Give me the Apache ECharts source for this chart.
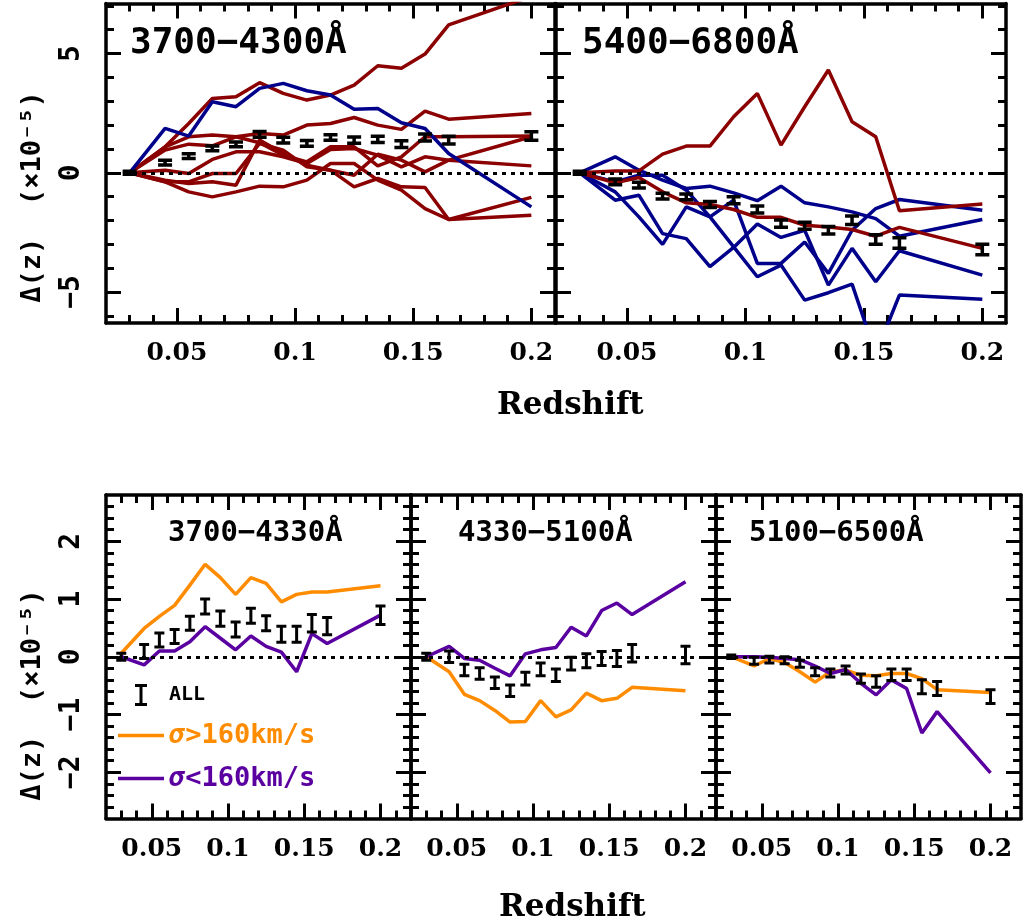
<!DOCTYPE html>
<html><head><meta charset="utf-8">
<script src="https://cdn.jsdelivr.net/npm/echarts@6/dist/echarts.min.js"></script>
<style>html,body{margin:0;padding:0;background:#fff}#c{width:1023px;height:920px}</style>
</head><body><div id="c"></div>
<script>
// ---------------- data ----------------
const redshift = [0.03,0.045,0.055,0.065,0.075,0.085,0.095,0.105,0.115,0.125,0.135,0.145,0.155,0.165,0.2];

// top-left panel 3700-4300A
const tlAll    = [0,0.43,0.70,1.02,1.19,1.61,1.37,1.23,1.48,1.37,1.40,1.20,1.48,1.37,1.54];
const tlAllErr = [0.06,0.1,0.1,0.1,0.1,0.12,0.12,0.12,0.12,0.13,0.13,0.14,0.15,0.16,0.18];
const tlBlue1  = [0,1.86,1.54,2.98,2.77,3.54,3.75,3.44,3.26,2.66,2.70,2.10,1.86,0.81,-1.43];
const tlRed1   = [0,1.09,2.07,3.12,3.19,3.78,3.33,3.05,3.26,3.68,4.49,4.38,4.98,6.20,7.40];
const tlRed2   = [0,1.09,1.51,1.58,1.51,1.65,1.58,2.00,2.07,2.32,2.00,1.82,2.59,2.25,2.49];
const tlRed3   = [0,0.95,1.20,1.13,1.51,1.26,0.74,0.46,1.09,1.09,0.29,0.67,1.51,1.51,1.54];
const tlRed4   = [0,0.11,-0.03,0.56,0.88,0.88,0.67,0.39,0.98,1.02,0.74,0.25,0.67,0.53,0.29];
const tlRed5   = [0,-0.31,-0.45,-0.38,-0.52,1.37,0.81,0.32,0.11,-0.10,0.78,0.53,0.04,0.53,1.51];
const tlRed6   = [0,-0.38,-0.80,-1.01,-0.80,-0.56,-0.59,-0.31,0.39,0.39,-0.31,-0.73,-1.50,-1.96,-1.78];
const tlRed7   = [0,-0.38,-0.38,-0.03,-0.03,1.23,0.95,0.25,0.11,-0.59,-0.24,-0.59,-0.62,-1.96,-1.03];

// top-right panel 5400-6800A
const trAll    = [0,-0.38,-0.52,-0.98,-1.01,-1.33,-1.15,-1.54,-2.13,-2.22,-2.41,-1.99,-2.80,-2.94,-3.22];
const trAllErr = [0.06,0.12,0.12,0.12,0.12,0.13,0.15,0.15,0.15,0.15,0.16,0.18,0.2,0.22,0.22];
const trRed1   = [0,0.08,0.08,0.78,1.12,1.12,2.35,3.33,1.16,2.77,4.31,2.14,1.51,-1.59,-1.31];
const trRed2   = [0,-0.42,-0.20,-0.80,-1.26,-1.33,-1.54,-1.87,-1.87,-2.20,-2.27,-2.38,-2.66,-2.29,-3.17];
const trBlue1  = [0,0.67,0.11,-0.31,-0.66,-0.56,-0.84,-1.17,-0.56,-1.26,-1.43,-1.64,-1.92,-2.66,-1.96];
const trBlue2  = [0,-0.38,-0.10,-0.10,-0.73,-1.85,-1.15,-3.80,-3.80,-2.90,-4.22,-2.41,-1.50,-1.12,-1.57];
const trBlue3  = [0,-1.15,-0.94,-2.55,-2.76,-3.94,-3.13,-2.15,-2.71,-2.41,-4.71,-3.17,-4.57,-3.27,-4.29];
const trBlue4  = [0,-0.80,-1.85,-3.00,-1.43,-1.85,-3.11,-4.36,-3.87,-5.34,-5.03,-4.67,-7.60,-5.13,-5.30];

// bottom-left panel 3700-4330A
const blAll    = [0,0.09,0.29,0.35,0.58,0.87,0.66,0.47,0.71,0.58,0.39,0.39,0.58,0.53,0.72];
const blAllErr = [0.06,0.12,0.12,0.12,0.12,0.13,0.13,0.13,0.13,0.13,0.14,0.14,0.15,0.15,0.16];
const blHigh   = [0.06,0.49,0.70,0.89,1.24,1.60,1.37,1.08,1.37,1.27,0.95,1.08,1.12,1.12,1.23];
const blLow    = [0,-0.14,0.10,0.10,0.26,0.52,0.32,0.12,0.36,0.18,0.08,-0.26,0.40,0.23,0.72];

// bottom-middle panel 4330-5100A
const bmAll    = [0,0,-0.23,-0.29,-0.45,-0.59,-0.38,-0.22,-0.32,-0.12,-0.07,-0.03,-0.03,0.06,0.03];
const bmAllErr = [0.06,0.1,0.1,0.1,0.1,0.1,0.11,0.11,0.11,0.11,0.12,0.12,0.14,0.15,0.15];
const bmHigh   = [0,-0.26,-0.65,-0.76,-0.93,-1.13,-1.12,-0.76,-1.04,-0.92,-0.63,-0.76,-0.72,-0.53,-0.59];
const bmLow    = [0,0.18,-0.03,-0.06,-0.20,-0.33,0.05,0.12,0.16,0.51,0.36,0.80,0.93,0.73,1.30];

// bottom-right panel 5100-6500A
const brAll    = [0,-0.07,-0.05,-0.06,-0.12,-0.26,-0.28,-0.23,-0.38,-0.43,-0.31,-0.31,-0.52,-0.55,-0.69];
const brAllErr = [0.03,0.06,0.06,0.06,0.06,0.07,0.07,0.07,0.08,0.1,0.1,0.1,0.12,0.12,0.12];
const brHigh   = [0,-0.16,-0.03,-0.10,-0.26,-0.44,-0.26,-0.23,-0.32,-0.33,-0.29,-0.29,-0.38,-0.57,-0.62];
const brLow    = [0,0,-0.01,-0.03,-0.05,-0.16,-0.29,-0.22,-0.46,-0.66,-0.40,-0.55,-1.32,-0.95,-2.01];

// ticks
const topXMajor = [0.05,0.1,0.15,0.2];
const topXMinor = [0.03,0.04,0.06,0.07,0.08,0.09,0.11,0.12,0.13,0.14,0.16,0.17,0.18,0.19];
const topYMajor = [-5,0,5];
const topYMinor = [-6,-4,-3,-2,-1,1,2,3,4,6,7];
const botXMajor = [0.05,0.1,0.15,0.2];
const botXMinor = [0.03,0.04,0.06,0.07,0.08,0.09,0.11,0.12,0.13,0.14,0.16,0.17,0.18,0.19,0.21];
const botYMajor = [-2,-1,0,1,2];
const botYMinor = [-2.6,-2.4,-2.2,-1.8,-1.6,-1.4,-1.2,-0.8,-0.6,-0.4,-0.2,0.2,0.4,0.6,0.8,1.2,1.4,1.6,1.8,2.2,2.4,2.6];

const panelTitles = ['3700\u22124300\u00c5','5400\u22126800\u00c5','3700\u22124330\u00c5','4330\u22125100\u00c5','5100\u22126500\u00c5'];
const yTitle = '\u0394(z)  (\u00d710\u207b\u2075)';
const xTitle = 'Redshift';
const nameAll = 'ALL', nameHigh = '\u03c3>160km/s', nameLow = '\u03c3<160km/s';

// ---------------- styling ----------------
const DARKRED = '#8b0000', NAVY = '#00008b', ORANGE = '#ff8c00', PURPLE = '#5a00a0';
const MONO = "'DejaVu Sans Mono', monospace";
const SERIF = "'DejaVu Serif', serif";

const panels = [
  {grid:{left:106, top:3.5, width:449, height:319.5}, x:[0.02,0.21], y:[-6.3,7.1], xMaj:topXMajor, xMin:topXMinor, yMaj:topYMajor, yMin:topYMinor, yLabels:true, cap:7, errW:3.5},
  {grid:{left:556, top:3.5, width:450, height:319.5}, x:[0.02,0.21], y:[-6.3,7.1], xMaj:topXMajor, xMin:topXMinor, yMaj:topYMajor, yMin:topYMinor, yLabels:false, cap:7, errW:3.5},
  {grid:{left:106, top:495, width:305, height:323.5}, x:[0.02,0.22], y:[-2.8,2.8], xMaj:botXMajor, xMin:botXMinor, yMaj:botYMajor, yMin:botYMinor, yLabels:true, cap:5, errW:3},
  {grid:{left:411, top:495, width:305, height:323.5}, x:[0.02,0.22], y:[-2.8,2.8], xMaj:botXMajor, xMin:botXMinor, yMaj:botYMajor, yMin:botYMinor, yLabels:false, cap:5, errW:3},
  {grid:{left:716, top:495, width:305, height:323.5}, x:[0.02,0.22], y:[-2.8,2.8], xMaj:botXMajor, xMin:botXMinor, yMaj:botYMajor, yMin:botYMinor, yLabels:false, cap:5, errW:3}
];

const grids = [], xAxes = [], yAxes = [], series = [];
const axisLineOn = {show:true, onZero:false, lineStyle:{color:'#000', width:3.5}};
const axisLineOff = {show:false, onZero:false};
function tick(vals, len){ return {show:true, inside:true, length:len, customValues:vals, lineStyle:{color:'#000', width:3}}; }
function fmt(v){ return v < 0 ? '\u2212' + Math.abs(v) : String(v); }

const axisIdx = [];
panels.forEach((p, g) => {
  grids.push(Object.assign({show:false}, p.grid));
  const bx = {type:'value', gridIndex:g, min:p.x[0], max:p.x[1], splitLine:{show:false}, minorTick:{show:false}};
  const by = {type:'value', gridIndex:g, min:p.y[0], max:p.y[1], splitLine:{show:false}, minorTick:{show:false}};
  const xi = xAxes.length, yi = yAxes.length;
  xAxes.push(Object.assign({}, bx, {position:'bottom', axisLine:axisLineOn, axisTick:tick(p.xMaj,15),
    axisLabel:{show:true, customValues:p.xMaj, formatter:fmt, margin:18, fontFamily:SERIF, fontWeight:'bold', fontSize:25, color:'#000'}}));
  xAxes.push(Object.assign({}, bx, {position:'bottom', axisLine:axisLineOff, axisTick:tick(p.xMin,8), axisLabel:{show:false}}));
  xAxes.push(Object.assign({}, bx, {position:'top', axisLine:axisLineOn, axisTick:tick(p.xMaj,15), axisLabel:{show:false}}));
  xAxes.push(Object.assign({}, bx, {position:'top', axisLine:axisLineOff, axisTick:tick(p.xMin,8), axisLabel:{show:false}}));
  yAxes.push(Object.assign({}, by, {position:'left', axisLine:axisLineOn, axisTick:tick(p.yMaj,15),
    axisLabel:{show:p.yLabels, customValues:p.yMaj, formatter:fmt, rotate:90, margin:20, fontFamily:MONO, fontWeight:'bold', fontSize:28, color:'#000'}}));
  yAxes.push(Object.assign({}, by, {position:'left', axisLine:axisLineOff, axisTick:tick(p.yMin,8), axisLabel:{show:false}}));
  yAxes.push(Object.assign({}, by, {position:'right', axisLine:axisLineOn, axisTick:tick(p.yMaj,15), axisLabel:{show:false}}));
  yAxes.push(Object.assign({}, by, {position:'right', axisLine:axisLineOff, axisTick:tick(p.yMin,8), axisLabel:{show:false}}));
  axisIdx.push([xi, yi]);
});

function pairs(vals){ return redshift.map((z, i) => [z, vals[i]]); }
function lineSeries(g, name, vals, color){
  series.push({type:'line', name:name, xAxisIndex:axisIdx[g][0], yAxisIndex:axisIdx[g][1], data:pairs(vals),
    symbol:'none', showSymbol:false, clip:true, lineStyle:{color:color, width:3.5}, itemStyle:{color:color}, z:2, silent:true, animation:false});
}
function errSeries(g, vals, errs){
  const p = panels[g];
  series.push({type:'custom', name:nameAll, xAxisIndex:axisIdx[g][0], yAxisIndex:axisIdx[g][1], clip:true, z:4, silent:true, animation:false,
    itemStyle:{color:'#000'},
    data: redshift.map((z, i) => [z, vals[i], errs[i]]),
    encode:{x:0, y:1},
    renderItem:function(params, api){
      const x = api.value(0), y = api.value(1), e = api.value(2);
      const hi = api.coord([x, y + e]), lo = api.coord([x, y - e]);
      const st = {stroke:'#000', lineWidth:p.errW};
      return {type:'group', children:[
        {type:'line', shape:{x1:hi[0], y1:hi[1], x2:lo[0], y2:lo[1]}, style:st},
        {type:'line', shape:{x1:hi[0]-p.cap, y1:hi[1], x2:hi[0]+p.cap, y2:hi[1]}, style:st},
        {type:'line', shape:{x1:lo[0]-p.cap, y1:lo[1], x2:lo[0]+p.cap, y2:lo[1]}, style:st}
      ]};
    },
    markLine:{silent:true, symbol:'none', label:{show:false}, animation:false,
      lineStyle:{color:'#000', width:3, type:[4,5]}, data:[{yAxis:0}]}
  });
}

// top-left
[tlRed1,tlRed2,tlRed3,tlRed4,tlRed5,tlRed6,tlRed7].forEach((v,i)=>lineSeries(0,'tlr'+i,v,DARKRED));
lineSeries(0,'tlb0',tlBlue1,NAVY);
errSeries(0, tlAll, tlAllErr);
// top-right
[trBlue1,trBlue2,trBlue3,trBlue4].forEach((v,i)=>lineSeries(1,'trb'+i,v,NAVY));
[trRed1,trRed2].forEach((v,i)=>lineSeries(1,'trr'+i,v,DARKRED));
errSeries(1, trAll, trAllErr);
// bottom
lineSeries(2,nameHigh,blHigh,ORANGE); lineSeries(2,nameLow,blLow,PURPLE); errSeries(2, blAll, blAllErr);
lineSeries(3,nameHigh,bmHigh,ORANGE); lineSeries(3,nameLow,bmLow,PURPLE); errSeries(3, bmAll, bmAllErr);
lineSeries(4,nameHigh,brHigh,ORANGE); lineSeries(4,nameLow,brLow,PURPLE); errSeries(4, brAll, brAllErr);

const titleStyleBig = {fontFamily:MONO, fontWeight:'bold', fontSize:36, color:'#000'};
const titleStyleSmall = {fontFamily:MONO, fontWeight:'bold', fontSize:29, color:'#000'};
const xTitleStyle = {fontFamily:SERIF, fontWeight:'bold', fontSize:31, color:'#000'};
const yTitleFont = "bold 27px 'DejaVu Sans Mono', monospace";

const option = {
  animation:false,
  backgroundColor:'#fff',
  grid: grids, xAxis: xAxes, yAxis: yAxes, series: series,
  title: [
    {text:panelTitles[0], left:130, top:26, padding:0, textStyle:titleStyleBig},
    {text:panelTitles[1], left:582, top:26, padding:0, textStyle:titleStyleBig},
    {text:panelTitles[2], left:168, top:519, padding:0, textStyle:titleStyleSmall},
    {text:panelTitles[3], left:458, top:519, padding:0, textStyle:titleStyleSmall},
    {text:panelTitles[4], left:749, top:519, padding:0, textStyle:titleStyleSmall},
    {text:xTitle, left:497, top:390, padding:0, textStyle:xTitleStyle},
    {text:xTitle, left:499, top:892, padding:0, textStyle:xTitleStyle}
  ],
  graphic: [
    {type:'text', x:33, y:197, rotation:Math.PI/2, silent:true,
      style:{text:yTitle, font:yTitleFont, fill:'#000', align:'center', verticalAlign:'middle'}},
    {type:'text', x:33, y:695, rotation:Math.PI/2, silent:true,
      style:{text:yTitle, font:yTitleFont, fill:'#000', align:'center', verticalAlign:'middle'}}
  ],
  legend: {
    left:118, top:684, orient:'vertical', itemGap:16, itemWidth:46, itemHeight:22, selectedMode:false, padding:0,
    textStyle:{fontFamily:MONO, fontWeight:'bold', fontSize:27, rich:{i:{fontFamily:MONO, fontWeight:'bold', fontStyle:'italic', fontSize:27}}},
    formatter:function(n){ return n.replace('\u03c3', '{i|\u03c3}'); },
    data:[
      {name:nameAll, icon:'path://M0,0H12V3H7.5V19H12V22H0V19H4.5V3H0Z', itemStyle:{color:'#000'}, textStyle:{color:'#000', fontSize:20}},
      {name:nameHigh, icon:'path://M0,0H46V3.5H0Z', itemStyle:{color:ORANGE}, textStyle:{color:ORANGE, rich:{i:{color:ORANGE, fontStyle:'italic', fontWeight:'bold', fontSize:27, fontFamily:MONO}}}},
      {name:nameLow, icon:'path://M0,0H46V3.5H0Z', itemStyle:{color:PURPLE}, textStyle:{color:PURPLE, rich:{i:{color:PURPLE, fontStyle:'italic', fontWeight:'bold', fontSize:27, fontFamily:MONO}}}}
    ]
  }
};
const chart = echarts.init(document.getElementById('c'), null, {renderer:'canvas'});
chart.setOption(option);
</script>
</body></html>
